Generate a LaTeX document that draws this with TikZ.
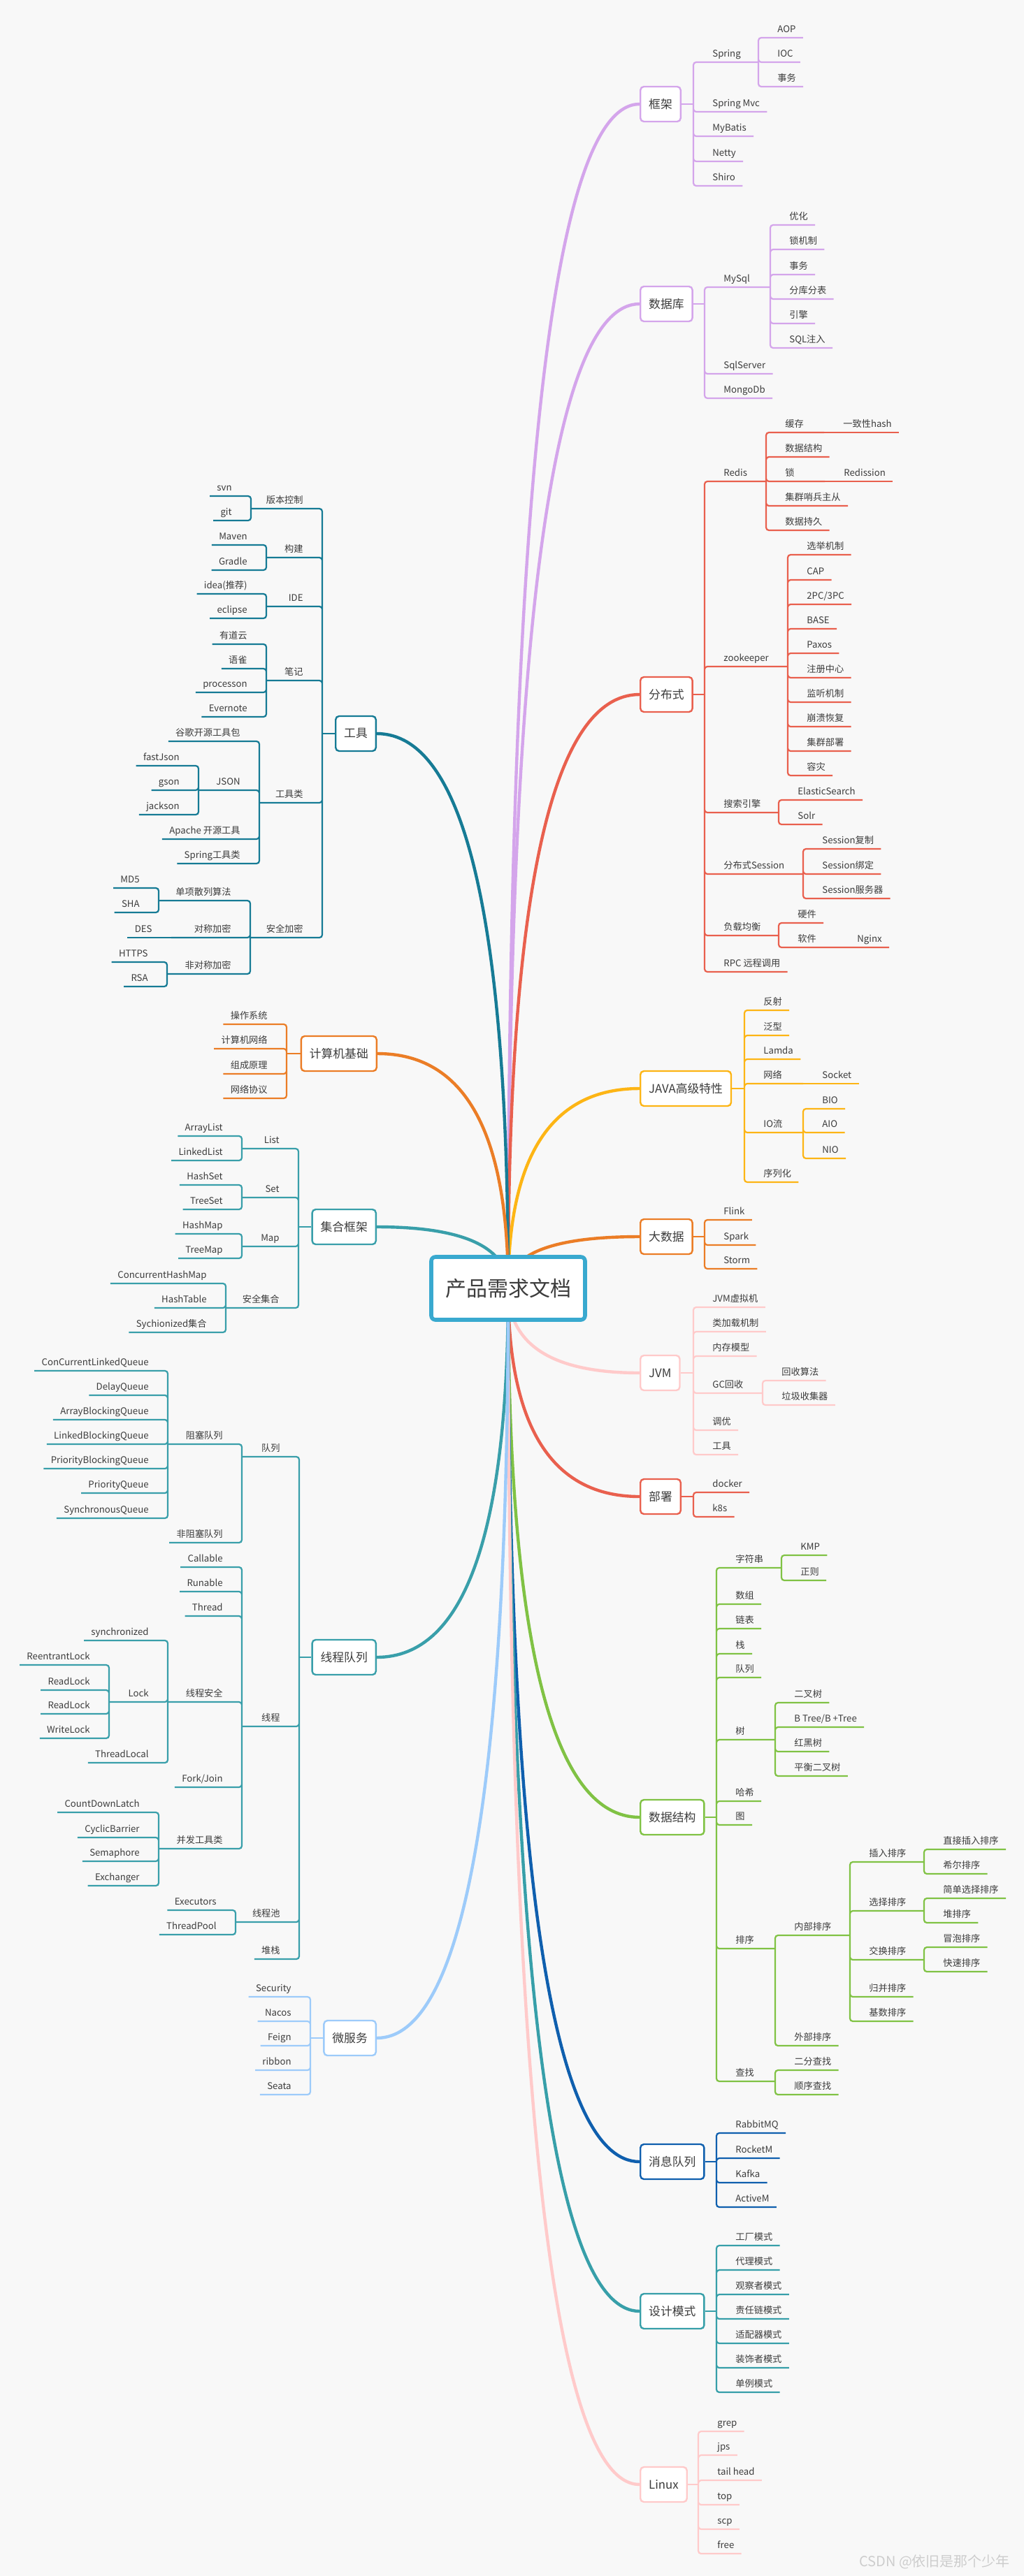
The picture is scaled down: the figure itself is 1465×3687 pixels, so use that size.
\documentclass[tikz,border=0pt]{standalone}
\usepackage{fontspec}
\setmainfont{Noto Sans CJK SC}
\usetikzlibrary{calc}
\definecolor{bgc}{HTML}{F8F8F8}
\definecolor{txt}{HTML}{3C3C3C}
\definecolor{rootc}{HTML}{39A9CF}
\definecolor{kjc}{HTML}{D4A5EB}
\definecolor{fbsc}{HTML}{E9604E}
\definecolor{javac}{HTML}{FDB515}
\definecolor{dsjc}{HTML}{EB7D26}
\definecolor{jvmc}{HTML}{FFCACA}
\definecolor{sjjgc}{HTML}{80C244}
\definecolor{xxdlc}{HTML}{0F5FAE}
\definecolor{sjmsc}{HTML}{379FA9}
\definecolor{gjc}{HTML}{167B95}
\definecolor{jhc}{HTML}{399FAA}
\definecolor{wfwc}{HTML}{9DCBFA}
\definecolor{markc}{HTML}{CDCDCD}
\pgfdeclarelayer{back}
\pgfdeclarelayer{arms}
\pgfsetlayers{back,arms,main}

\tikzset{
  root/.style={draw=rootc, line width=2.8pt, rounded corners=3pt, fill=white, text=txt,
    minimum width=110pt, minimum height=45pt, font=\fontsize{15}{18}\selectfont},
  topic/.style={draw, line width=1.2pt, rounded corners=2.5pt, fill=white, text=txt,
    minimum height=25pt, inner xsep=6pt, font=\fontsize{8.4}{10}\selectfont},
  kidR/.style={anchor=south west, inner xsep=5pt, inner ysep=3.5pt, text depth=0pt,
    text=txt, font=\fontsize{6.6}{8}\selectfont},
  kidL/.style={kidR, anchor=south east},
  ln/.style={line width=1.1pt, rounded corners=2pt},
  arm/.style={line width=2.2pt, to path={.. controls ($(\tikztostart)!0.667!(\tikztostart |- \tikztotarget)$)
    and ($(\tikztotarget)!0.667!(\tikztostart |- \tikztotarget)$) .. (\tikztotarget)}}
}

\begin{document}
\begin{tikzpicture}[x=0.5pt, y=-0.5pt]
  \useasboundingbox (0,0) rectangle (1465,3687);
  \begin{pgfonlayer}{back}
    \fill[bgc] (0,0) rectangle (1465,3687);
  \end{pgfonlayer}

  \node[root] (root) at (727,1844) {产品需求文档};

  % 框架
  \begin{scope}[color=kjc]
    \node[topic, anchor=west] (kj) at (915,149) {框架};
    \coordinate (kjB) at (992,149);
    \coordinate (springB) at (1085,89);
    \node[kidR] (spring) at (1009,89) {Spring};
    \node[kidR] (aop) at (1102,54) {AOP};
    \node[kidR] (ioc) at (1102,89) {IOC};
    \node[kidR] (tx1) at (1102,124) {事务};
    \node[kidR] (mvc) at (1009,160) {Spring Mvc};
    \node[kidR] (mybatis) at (1009,195) {MyBatis};
    \node[kidR] (netty) at (1009,231) {Netty};
    \node[kidR] (shiro) at (1009,266) {Shiro};
    \draw[ln] (kj.east) -- (kjB);
    \draw[ln] (kjB) |- (springB) (kjB) |- (mvc.south east) (kjB) |- (mybatis.south east)
      (kjB) |- (netty.south east) (kjB) |- (shiro.south east);
    \draw[ln] (springB) |- (aop.south east) (springB) |- (ioc.south east) (springB) |- (tx1.south east);
  \end{scope}

  % 数据库
  \begin{scope}[color=kjc]
    \node[topic, anchor=west] (sjk) at (915,435) {数据库};
    \coordinate (sjkB) at (1008,435);
    \coordinate (mysqlB) at (1102,411);
    \node[kidR] (mysql) at (1025,411) {MySql};
    \node[kidR] (yh) at (1119,322) {优化};
    \node[kidR] (sjz) at (1119,357) {锁机制};
    \node[kidR] (tx2) at (1119,393) {事务};
    \node[kidR] (fkfb) at (1119,428) {分库分表};
    \node[kidR] (yq) at (1119,463) {引擎};
    \node[kidR] (sqlzr) at (1119,498) {SQL注入};
    \node[kidR] (sqlserver) at (1025,535) {SqlServer};
    \node[kidR] (mongo) at (1025,570) {MongoDb};
    \draw[ln] (sjk.east) -- (sjkB);
    \draw[ln] (sjkB) |- (mysqlB) (sjkB) |- (sqlserver.south east) (sjkB) |- (mongo.south east);
    \draw[ln] (mysqlB) |- (yh.south east) (mysqlB) |- (sjz.south east) (mysqlB) |- (tx2.south east)
      (mysqlB) |- (fkfb.south east) (mysqlB) |- (yq.south east) (mysqlB) |- (sqlzr.south east);
  \end{scope}

  % 分布式
  \begin{scope}[color=fbsc]
    \node[topic, anchor=west] (fbs) at (915,994) {分布式};
    \coordinate (fbsB) at (1008,994);
    \node[kidR] (redis) at (1025,689) {Redis};
    \coordinate (redisB) at (1096,689);
    \node[kidR] (hc) at (1113,619) {缓存};
    \coordinate (hcB) at (1179,619);
    \node[kidR] (hash) at (1196,619) {一致性hash};
    \node[kidR] (sjjg1) at (1113,654) {数据结构};
    \node[kidR] (suo) at (1113,689) {锁};
    \coordinate (suoB) at (1180,689);
    \node[kidR] (redission) at (1197,689) {Redission};
    \node[kidR] (jq) at (1113,724) {集群哨兵主从};
    \node[kidR] (cj) at (1113,759) {数据持久};
    \node[kidR] (zk) at (1025,954) {zookeeper};
    \coordinate (zkB) at (1127,954);
    \node[kidR] (xj) at (1144,794) {选举机制};
    \node[kidR] (cap) at (1144,830) {CAP};
    \node[kidR] (pc) at (1144,865) {2PC/3PC};
    \node[kidR] (base) at (1144,900) {BASE};
    \node[kidR] (paxos) at (1144,935) {Paxos};
    \node[kidR] (zczx) at (1144,970) {注册中心};
    \node[kidR] (jtjz) at (1144,1005) {监听机制};
    \node[kidR] (bkhf) at (1144,1040) {崩溃恢复};
    \node[kidR] (jqbs) at (1144,1075) {集群部署};
    \node[kidR] (rz) at (1144,1110) {容灾};
    \node[kidR] (ss) at (1025,1163) {搜索引擎};
    \coordinate (ssB) at (1114,1163);
    \node[kidR] (es) at (1131,1145) {ElasticSearch};
    \node[kidR] (solr) at (1131,1180) {Solr};
    \node[kidR] (fss) at (1025,1251) {分布式Session};
    \coordinate (fssB) at (1149,1251);
    \node[kidR] (sfz) at (1166,1215) {Session复制};
    \node[kidR] (sbd) at (1166,1251) {Session绑定};
    \node[kidR] (sfw) at (1166,1286) {Session服务器};
    \node[kidR] (fz) at (1025,1339) {负载均衡};
    \coordinate (fzB) at (1114,1339);
    \node[kidR] (yj) at (1131,1321) {硬件};
    \node[kidR] (rj) at (1131,1356) {软件};
    \coordinate (rjB) at (1199,1356);
    \node[kidR] (nginx) at (1216,1356) {Nginx};
    \node[kidR] (rpc) at (1025,1391) {RPC 远程调用};
    \draw[ln] (fbs.east) -- (fbsB);
    \draw[ln] (fbsB) |- (redisB) (fbsB) |- (zkB) (fbsB) |- (ssB) (fbsB) |- (fssB) (fbsB) |- (fzB)
      (fbsB) |- (rpc.south east);
    \draw[ln] (redisB) |- (hcB) (redisB) |- (sjjg1.south east) (redisB) |- (suoB)
      (redisB) |- (jq.south east) (redisB) |- (cj.south east);
    \draw[ln] (hcB) -- (hash.south east) (suoB) -- (redission.south east);
    \draw[ln] (zkB) |- (xj.south east) (zkB) |- (cap.south east) (zkB) |- (pc.south east)
      (zkB) |- (base.south east) (zkB) |- (paxos.south east) (zkB) |- (zczx.south east)
      (zkB) |- (jtjz.south east) (zkB) |- (bkhf.south east) (zkB) |- (jqbs.south east)
      (zkB) |- (rz.south east);
    \draw[ln] (ssB) |- (es.south east) (ssB) |- (solr.south east);
    \draw[ln] (fssB) |- (sfz.south east) (fssB) |- (sbd.south east) (fssB) |- (sfw.south east);
    \draw[ln] (fzB) |- (yj.south east) (fzB) |- (rjB) (rjB) -- (nginx.south east);
  \end{scope}

  % JAVA高级特性
  \begin{scope}[color=javac]
    \node[topic, anchor=west] (java) at (915,1558) {JAVA高级特性};
    \coordinate (javaB) at (1065,1558);
    \node[kidR] (fs) at (1082,1446) {反射};
    \node[kidR] (fx) at (1082,1482) {泛型};
    \node[kidR] (lamda) at (1082,1516) {Lamda};
    \node[kidR] (wl) at (1082,1551) {网络};
    \coordinate (wlB) at (1149,1551);
    \node[kidR] (socket) at (1166,1551) {Socket};
    \node[kidR] (io) at (1082,1621) {IO流};
    \coordinate (ioB) at (1149,1621);
    \node[kidR] (bio) at (1166,1587) {BIO};
    \node[kidR] (aio) at (1166,1621) {AIO};
    \node[kidR] (nio) at (1166,1658) {NIO};
    \node[kidR] (xlh) at (1082,1692) {序列化};
    \draw[ln] (java.east) -- (javaB);
    \draw[ln] (javaB) |- (fs.south east) (javaB) |- (fx.south east) (javaB) |- (lamda.south east)
      (javaB) |- (wlB) (javaB) |- (ioB) (javaB) |- (xlh.south east);
    \draw[ln] (wlB) -- (socket.south east);
    \draw[ln] (ioB) |- (bio.south east) (ioB) |- (aio.south east) (ioB) |- (nio.south east);
  \end{scope}

  % 大数据
  \begin{scope}[color=dsjc]
    \node[topic, anchor=west] (dsj) at (915,1770) {大数据};
    \coordinate (dsjB) at (1008,1770);
    \node[kidR] (flink) at (1025,1746) {Flink};
    \node[kidR] (spark) at (1025,1782) {Spark};
    \node[kidR] (storm) at (1025,1816) {Storm};
    \draw[ln] (dsj.east) -- (dsjB);
    \draw[ln] (dsjB) |- (flink.south east) (dsjB) |- (spark.south east) (dsjB) |- (storm.south east);
  \end{scope}

  % JVM
  \begin{scope}[color=jvmc]
    \node[topic, anchor=west] (jvm) at (915,1965) {JVM};
    \coordinate (jvmB) at (992,1965);
    \node[kidR] (xnj) at (1009,1871) {JVM虚拟机};
    \node[kidR] (jzjz) at (1009,1906) {类加载机制};
    \node[kidR] (ncmx) at (1009,1941) {内存模型};
    \node[kidR] (gc) at (1009,1994) {GC回收};
    \coordinate (gcB) at (1091,1994);
    \node[kidR] (hssf) at (1108,1976) {回收算法};
    \node[kidR] (ljsj) at (1108,2011) {垃圾收集器};
    \node[kidR] (ty) at (1009,2047) {调优};
    \node[kidR] (jgj) at (1009,2082) {工具};
    \draw[ln] (jvm.east) -- (jvmB);
    \draw[ln] (jvmB) |- (xnj.south east) (jvmB) |- (jzjz.south east) (jvmB) |- (ncmx.south east)
      (jvmB) |- (gcB) (jvmB) |- (ty.south east) (jvmB) |- (jgj.south east);
    \draw[ln] (gcB) |- (hssf.south east) (gcB) |- (ljsj.south east);
  \end{scope}

  % 部署
  \begin{scope}[color=fbsc]
    \node[topic, anchor=west] (bs) at (915,2142) {部署};
    \coordinate (bsB) at (992,2142);
    \node[kidR] (docker) at (1009,2136) {docker};
    \node[kidR] (k8s) at (1009,2171) {k8s};
    \draw[ln] (bs.east) -- (bsB);
    \draw[ln] (bsB) |- (docker.south east) (bsB) |- (k8s.south east);
  \end{scope}

  % 数据结构
  \begin{scope}[color=sjjgc]
    \node[topic, anchor=west] (sjjg) at (915,2601) {数据结构};
    \coordinate (sjjgB) at (1025,2601);
    \node[kidR] (zfc) at (1042,2244) {字符串};
    \coordinate (zfcB) at (1118,2244);
    \node[kidR] (kmp) at (1135,2226) {KMP};
    \node[kidR] (zz) at (1135,2262) {正则};
    \node[kidR] (sz) at (1042,2296) {数组};
    \node[kidR] (lb) at (1042,2331) {链表};
    \node[kidR] (zhan) at (1042,2367) {栈};
    \node[kidR] (dl) at (1042,2401) {队列};
    \node[kidR] (shu) at (1042,2490) {树};
    \coordinate (shuB) at (1109,2490);
    \node[kidR] (ecs) at (1126,2437) {二叉树};
    \node[kidR] (bt) at (1126,2472) {B Tree/B +Tree};
    \node[kidR] (hhs) at (1126,2507) {红黑树};
    \node[kidR] (phs) at (1126,2542) {平衡二叉树};
    \node[kidR] (hx) at (1042,2578) {哈希};
    \node[kidR] (tu) at (1042,2612) {图};
    \node[kidR] (px) at (1042,2789) {排序};
    \coordinate (pxB) at (1109,2789);
    \node[kidR] (nbpx) at (1126,2770) {内部排序};
    \coordinate (nbB) at (1216,2770);
    \node[kidR] (crpx) at (1233,2665) {插入排序};
    \coordinate (crB) at (1322,2665);
    \node[kidR] (zjcr) at (1339,2647) {直接插入排序};
    \node[kidR] (xe) at (1339,2682) {希尔排序};
    \node[kidR] (xzpx) at (1233,2735) {选择排序};
    \coordinate (xzB) at (1322,2735);
    \node[kidR] (jdxz) at (1339,2717) {简单选择排序};
    \node[kidR] (dui) at (1339,2752) {堆排序};
    \node[kidR] (swpx) at (1233,2805) {交换排序};
    \coordinate (swB) at (1322,2805);
    \node[kidR] (mp) at (1339,2787) {冒泡排序};
    \node[kidR] (ks) at (1339,2822) {快速排序};
    \node[kidR] (gbpx) at (1233,2858) {归并排序};
    \node[kidR] (jspx) at (1233,2893) {基数排序};
    \node[kidR] (wbpx) at (1126,2928) {外部排序};
    \node[kidR] (cz) at (1042,2979) {查找};
    \coordinate (czB) at (1109,2979);
    \node[kidR] (efcz) at (1126,2963) {二分查找};
    \node[kidR] (sxcz) at (1126,2998) {顺序查找};
    \draw[ln] (sjjg.east) -- (sjjgB);
    \draw[ln] (sjjgB) |- (zfcB) (sjjgB) |- (sz.south east) (sjjgB) |- (lb.south east)
      (sjjgB) |- (zhan.south east) (sjjgB) |- (dl.south east) (sjjgB) |- (shuB)
      (sjjgB) |- (hx.south east) (sjjgB) |- (tu.south east) (sjjgB) |- (pxB) (sjjgB) |- (czB);
    \draw[ln] (zfcB) |- (kmp.south east) (zfcB) |- (zz.south east);
    \draw[ln] (shuB) |- (ecs.south east) (shuB) |- (bt.south east) (shuB) |- (hhs.south east)
      (shuB) |- (phs.south east);
    \draw[ln] (pxB) |- (nbB) (pxB) |- (wbpx.south east);
    \draw[ln] (nbB) |- (crB) (nbB) |- (xzB) (nbB) |- (swB) (nbB) |- (gbpx.south east)
      (nbB) |- (jspx.south east);
    \draw[ln] (crB) |- (zjcr.south east) (crB) |- (xe.south east);
    \draw[ln] (xzB) |- (jdxz.south east) (xzB) |- (dui.south east);
    \draw[ln] (swB) |- (mp.south east) (swB) |- (ks.south east);
    \draw[ln] (czB) |- (efcz.south east) (czB) |- (sxcz.south east);
  \end{scope}

  % 消息队列
  \begin{scope}[color=xxdlc]
    \node[topic, anchor=west] (xxdl) at (915,3094) {消息队列};
    \coordinate (xxdlB) at (1025,3094);
    \node[kidR] (rabbit) at (1042,3053) {RabbitMQ};
    \node[kidR] (rocket) at (1042,3089) {RocketM};
    \node[kidR] (kafka) at (1042,3124) {Kafka};
    \node[kidR] (active) at (1042,3159) {ActiveM};
    \draw[ln] (xxdl.east) -- (xxdlB);
    \draw[ln] (xxdlB) |- (rabbit.south east) (xxdlB) |- (rocket.south east)
      (xxdlB) |- (kafka.south east) (xxdlB) |- (active.south east);
  \end{scope}

  % 设计模式
  \begin{scope}[color=sjmsc]
    \node[topic, anchor=west] (sjms) at (915,3308) {设计模式};
    \coordinate (sjmsB) at (1025,3308);
    \node[kidR] (gcms) at (1042,3214) {工厂模式};
    \node[kidR] (dlms) at (1042,3249) {代理模式};
    \node[kidR] (gczms) at (1042,3284) {观察者模式};
    \node[kidR] (zrlms) at (1042,3319) {责任链模式};
    \node[kidR] (spqms) at (1042,3354) {适配器模式};
    \node[kidR] (zszms) at (1042,3389) {装饰者模式};
    \node[kidR] (dlims) at (1042,3424) {单例模式};
    \draw[ln] (sjms.east) -- (sjmsB);
    \draw[ln] (sjmsB) |- (gcms.south east) (sjmsB) |- (dlms.south east) (sjmsB) |- (gczms.south east)
      (sjmsB) |- (zrlms.south east) (sjmsB) |- (spqms.south east) (sjmsB) |- (zszms.south east)
      (sjmsB) |- (dlims.south east);
  \end{scope}

  % Linux
  \begin{scope}[color=jvmc]
    \node[topic, anchor=west] (linux) at (915,3556) {Linux};
    \coordinate (linuxB) at (999,3556);
    \node[kidR] (grep) at (1016,3480) {grep};
    \node[kidR] (jps) at (1016,3514) {jps};
    \node[kidR] (tail) at (1016,3550) {tail head};
    \node[kidR] (ltop) at (1016,3585) {top};
    \node[kidR] (scp) at (1016,3620) {scp};
    \node[kidR] (free) at (1016,3655) {free};
    \draw[ln] (linux.east) -- (linuxB);
    \draw[ln] (linuxB) |- (grep.south east) (linuxB) |- (jps.south east) (linuxB) |- (tail.south east)
      (linuxB) |- (ltop.south east) (linuxB) |- (scp.south east) (linuxB) |- (free.south east);
  \end{scope}

  % 工具
  \begin{scope}[color=gjc]
    \node[topic, anchor=east] (gj) at (539,1050) {工具};
    \coordinate (gjB) at (461,1050);
    \node[kidL] (bbkz) at (444,728) {版本控制};
    \coordinate (bbB) at (359,728);
    \node[kidL] (svn) at (342,710) {svn};
    \node[kidL] (git) at (342,745) {git};
    \node[kidL] (gouj) at (444,798) {构建};
    \coordinate (goujB) at (381,798);
    \node[kidL] (maven) at (364,780) {Maven};
    \node[kidL] (gradle) at (364,816) {Gradle};
    \node[kidL] (ide) at (444,868) {IDE};
    \coordinate (ideB) at (381,868);
    \node[kidL] (idea) at (364,850) {idea(推荐)};
    \node[kidL] (eclipse) at (364,885) {eclipse};
    \node[kidL] (bj) at (444,974) {笔记};
    \coordinate (bjB) at (381,974);
    \node[kidL] (ydy) at (364,922) {有道云};
    \node[kidL] (yque) at (364,957) {语雀};
    \node[kidL] (processon) at (364,991) {processon};
    \node[kidL] (evernote) at (364,1026) {Evernote};
    \node[kidL] (gjl) at (444,1149) {工具类};
    \coordinate (gjlB) at (371,1149);
    \node[kidL] (gg) at (354,1061) {谷歌开源工具包};
    \node[kidL] (json) at (354,1131) {JSON};
    \coordinate (jsonB) at (284,1131);
    \node[kidL] (fastjson) at (267,1096) {fastJson};
    \node[kidL] (gson) at (267,1131) {gson};
    \node[kidL] (jackson) at (267,1166) {jackson};
    \node[kidL] (apache) at (354,1201) {Apache 开源工具};
    \node[kidL] (sgjl) at (354,1236) {Spring工具类};
    \node[kidL] (aq) at (444,1342) {安全加密};
    \coordinate (aqB) at (358,1342);
    \node[kidL] (dx) at (341,1289) {单项散列算法};
    \coordinate (dxB) at (227,1289);
    \node[kidL] (md5) at (210,1271) {MD5};
    \node[kidL] (sha) at (210,1306) {SHA};
    \node[kidL] (dc) at (341,1342) {对称加密};
    \coordinate (dcB) at (245,1342);
    \node[kidL] (des) at (228,1342) {DES};
    \node[kidL] (fdc) at (341,1394) {非对称加密};
    \coordinate (fdcB) at (239,1394);
    \node[kidL] (https) at (222,1377) {HTTPS};
    \node[kidL] (rsa) at (222,1412) {RSA};
    \draw[ln] (gj.west) -- (gjB);
    \draw[ln] (gjB) |- (bbB) (gjB) |- (goujB) (gjB) |- (ideB) (gjB) |- (bjB) (gjB) |- (gjlB) (gjB) |- (aqB);
    \draw[ln] (bbB) |- (svn.south west) (bbB) |- (git.south west);
    \draw[ln] (goujB) |- (maven.south west) (goujB) |- (gradle.south west);
    \draw[ln] (ideB) |- (idea.south west) (ideB) |- (eclipse.south west);
    \draw[ln] (bjB) |- (ydy.south west) (bjB) |- (yque.south west) (bjB) |- (processon.south west)
      (bjB) |- (evernote.south west);
    \draw[ln] (gjlB) |- (gg.south west) (gjlB) |- (jsonB) (gjlB) |- (apache.south west)
      (gjlB) |- (sgjl.south west);
    \draw[ln] (jsonB) |- (fastjson.south west) (jsonB) |- (gson.south west) (jsonB) |- (jackson.south west);
    \draw[ln] (aqB) |- (dxB) (aqB) |- (dcB) (aqB) |- (fdcB);
    \draw[ln] (dxB) |- (md5.south west) (dxB) |- (sha.south west);
    \draw[ln] (dcB) -- (des.south west);
    \draw[ln] (fdcB) |- (https.south west) (fdcB) |- (rsa.south west);
  \end{scope}

  % 计算机基础
  \begin{scope}[color=dsjc]
    \node[topic, anchor=east] (jsj) at (540,1508) {计算机基础};
    \coordinate (jsjB) at (410,1508);
    \node[kidL] (czxt) at (393,1466) {操作系统};
    \node[kidL] (jswl) at (393,1501) {计算机网络};
    \node[kidL] (zcyl) at (393,1537) {组成原理};
    \node[kidL] (wlxy) at (393,1572) {网络协议};
    \draw[ln] (jsj.west) -- (jsjB);
    \draw[ln] (jsjB) |- (czxt.south west) (jsjB) |- (jswl.south west) (jsjB) |- (zcyl.south west)
      (jsjB) |- (wlxy.south west);
  \end{scope}

  % 集合框架
  \begin{scope}[color=jhc]
    \node[topic, anchor=east] (jhk) at (539,1756) {集合框架};
    \coordinate (jhkB) at (427,1756);
    \node[kidL] (list) at (410,1644) {List};
    \coordinate (listB) at (346,1644);
    \node[kidL] (arraylist) at (329,1626) {ArrayList};
    \node[kidL] (linkedlist) at (329,1661) {LinkedList};
    \node[kidL] (set) at (410,1714) {Set};
    \coordinate (setB) at (346,1714);
    \node[kidL] (hashset) at (329,1696) {HashSet};
    \node[kidL] (treeset) at (329,1731) {TreeSet};
    \node[kidL] (map) at (410,1784) {Map};
    \coordinate (mapB) at (346,1784);
    \node[kidL] (hashmap) at (329,1766) {HashMap};
    \node[kidL] (treemap) at (329,1801) {TreeMap};
    \node[kidL] (aqjh) at (410,1872) {安全集合};
    \coordinate (aqjhB) at (323,1872);
    \node[kidL] (chm) at (306,1837) {ConcurrentHashMap};
    \node[kidL] (htab) at (306,1872) {HashTable};
    \node[kidL] (synj) at (306,1907) {Sychionized集合};
    \draw[ln] (jhk.west) -- (jhkB);
    \draw[ln] (jhkB) |- (listB) (jhkB) |- (setB) (jhkB) |- (mapB) (jhkB) |- (aqjhB);
    \draw[ln] (listB) |- (arraylist.south west) (listB) |- (linkedlist.south west);
    \draw[ln] (setB) |- (hashset.south west) (setB) |- (treeset.south west);
    \draw[ln] (mapB) |- (hashmap.south west) (mapB) |- (treemap.south west);
    \draw[ln] (aqjhB) |- (chm.south west) (aqjhB) |- (htab.south west) (aqjhB) |- (synj.south west);
  \end{scope}

  % 线程队列
  \begin{scope}[color=jhc]
    \node[topic, anchor=east] (xcdl) at (539,2372) {线程队列};
    \coordinate (xcdlB) at (428,2372);
    \node[kidL] (dlq) at (411,2085) {队列};
    \coordinate (dlqB) at (346,2085);
    \node[kidL] (zsdl) at (329,2067) {阻塞队列};
    \coordinate (zsdlB) at (240,2067);
    \node[kidL] (q1) at (223,1962) {ConCurrentLinkedQueue};
    \node[kidL] (q2) at (223,1997) {DelayQueue};
    \node[kidL] (q3) at (223,2032) {ArrayBlockingQueue};
    \node[kidL] (q4) at (223,2067) {LinkedBlockingQueue};
    \node[kidL] (q5) at (223,2102) {PriorityBlockingQueue};
    \node[kidL] (q6) at (223,2137) {PriorityQueue};
    \node[kidL] (q7) at (223,2173) {SynchronousQueue};
    \node[kidL] (fzsdl) at (329,2208) {非阻塞队列};
    \node[kidL] (xc) at (411,2471) {线程};
    \coordinate (xcB) at (346,2471);
    \node[kidL] (callable) at (329,2243) {Callable};
    \node[kidL] (runable) at (329,2278) {Runable};
    \node[kidL] (thread) at (329,2313) {Thread};
    \node[kidL] (xcaq) at (329,2436) {线程安全};
    \coordinate (xcaqB) at (240,2436);
    \node[kidL] (syncd) at (223,2348) {synchronized};
    \node[kidL] (lock) at (223,2436) {Lock};
    \coordinate (lockB) at (156,2436);
    \node[kidL] (rlock) at (139,2383) {ReentrantLock};
    \node[kidL] (rl1) at (139,2419) {ReadLock};
    \node[kidL] (rl2) at (139,2453) {ReadLock};
    \node[kidL] (wlock) at (139,2488) {WriteLock};
    \node[kidL] (tlocal) at (223,2523) {ThreadLocal};
    \node[kidL] (forkjoin) at (329,2558) {Fork/Join};
    \node[kidL] (bfgj) at (329,2646) {并发工具类};
    \coordinate (bfgjB) at (227,2646);
    \node[kidL] (cdl) at (210,2594) {CountDownLatch};
    \node[kidL] (cyb) at (210,2630) {CyclicBarrier};
    \node[kidL] (sem) at (210,2664) {Semaphore};
    \node[kidL] (exch) at (210,2699) {Exchanger};
    \node[kidL] (xcc) at (411,2751) {线程池};
    \coordinate (xccB) at (337,2751);
    \node[kidL] (executors) at (320,2734) {Executors};
    \node[kidL] (tpool) at (320,2769) {ThreadPool};
    \node[kidL] (dz) at (411,2804) {堆栈};
    \draw[ln] (xcdl.west) -- (xcdlB);
    \draw[ln] (xcdlB) |- (dlqB) (xcdlB) |- (xcB) (xcdlB) |- (xccB) (xcdlB) |- (dz.south west);
    \draw[ln] (dlqB) |- (zsdlB) (dlqB) |- (fzsdl.south west);
    \draw[ln] (zsdlB) |- (q1.south west) (zsdlB) |- (q2.south west) (zsdlB) |- (q3.south west)
      (zsdlB) |- (q4.south west) (zsdlB) |- (q5.south west) (zsdlB) |- (q6.south west)
      (zsdlB) |- (q7.south west);
    \draw[ln] (xcB) |- (callable.south west) (xcB) |- (runable.south west) (xcB) |- (thread.south west)
      (xcB) |- (xcaqB) (xcB) |- (forkjoin.south west) (xcB) |- (bfgjB);
    \draw[ln] (xcaqB) |- (syncd.south west) (xcaqB) |- (lockB) (xcaqB) |- (tlocal.south west);
    \draw[ln] (lockB) |- (rlock.south west) (lockB) |- (rl1.south west) (lockB) |- (rl2.south west)
      (lockB) |- (wlock.south west);
    \draw[ln] (bfgjB) |- (cdl.south west) (bfgjB) |- (cyb.south west) (bfgjB) |- (sem.south west)
      (bfgjB) |- (exch.south west);
    \draw[ln] (xccB) |- (executors.south west) (xccB) |- (tpool.south west);
  \end{scope}

  % 微服务
  \begin{scope}[color=wfwc]
    \node[topic, anchor=east] (wfw) at (539,2917) {微服务};
    \coordinate (wfwB) at (444,2917);
    \node[kidL] (security) at (427,2858) {Security};
    \node[kidL] (nacos) at (427,2893) {Nacos};
    \node[kidL] (feign) at (427,2928) {Feign};
    \node[kidL] (ribbon) at (427,2963) {ribbon};
    \node[kidL] (seata) at (427,2998) {Seata};
    \draw[ln] (wfw.west) -- (wfwB);
    \draw[ln] (wfwB) |- (security.south west) (wfwB) |- (nacos.south west) (wfwB) |- (feign.south west)
      (wfwB) |- (ribbon.south west) (wfwB) |- (seata.south west);
  \end{scope}

  \node[anchor=east, text=markc, font=\fontsize{10}{12}\selectfont] (mark) at (1452,3667) {CSDN @依旧是那个少年};

  % curves from the centre
  \begin{pgfonlayer}{arms}
    \draw[arm, kjc] (root.center) to (kj.west);
    \draw[arm, kjc] (root.center) to (sjk.west);
    \draw[arm, fbsc] (root.center) to (fbs.west);
    \draw[arm, javac] (root.center) to (java.west);
    \draw[arm, dsjc] (root.center) to (dsj.west);
    \draw[arm, jvmc] (root.center) to (jvm.west);
    \draw[arm, fbsc] (root.center) to (bs.west);
    \draw[arm, sjjgc] (root.center) to (sjjg.west);
    \draw[arm, xxdlc] (root.center) to (xxdl.west);
    \draw[arm, sjmsc] (root.center) to (sjms.west);
    \draw[arm, jvmc] (root.center) to (linux.west);
    \draw[arm, gjc] (root.center) to (gj.east);
    \draw[arm, dsjc] (root.center) to (jsj.east);
    \draw[arm, jhc] (root.center) to (jhk.east);
    \draw[arm, jhc] (root.center) to (xcdl.east);
    \draw[arm, wfwc] (root.center) to (wfw.east);
  \end{pgfonlayer}
\end{tikzpicture}
\end{document}
